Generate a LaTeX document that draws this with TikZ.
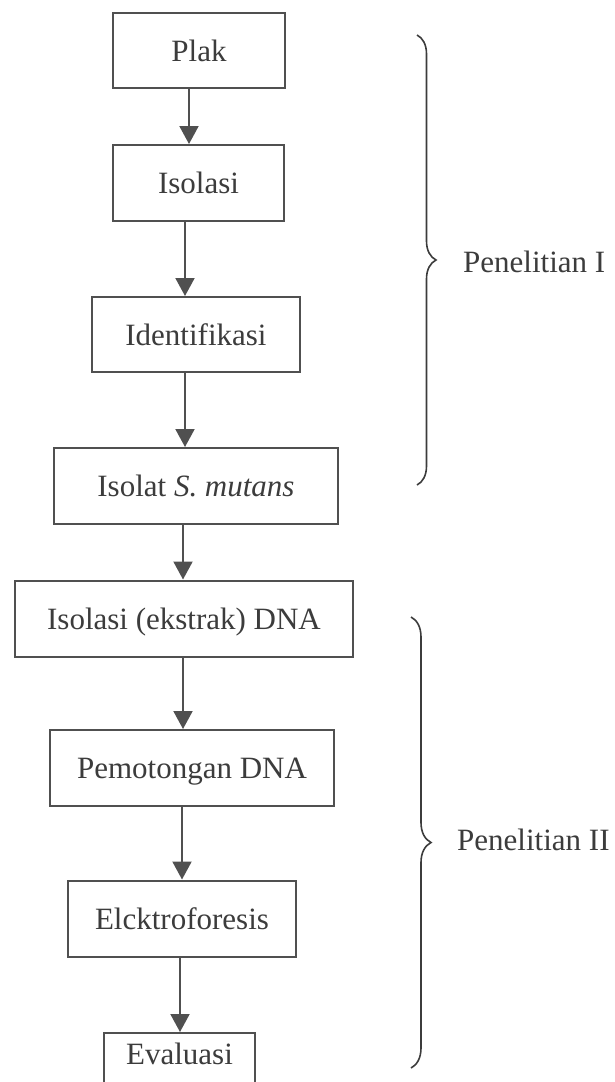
\documentclass[tikz,border=0pt]{standalone}
\usepackage{fontspec}
\setmainfont{Liberation Serif}
\usetikzlibrary{arrows.meta,decorations.pathreplacing}
\definecolor{ink}{RGB}{60,60,60}
\definecolor{linec}{RGB}{80,80,80}
\tikzset{
  stepbox/.style={draw=linec, line width=2pt, inner sep=0pt, text=ink,
    text height=21pt, text depth=0pt,
    font=\fontsize{31}{37}\selectfont},
  flow/.style={draw=linec, line width=2pt,
    -{Triangle[width=19pt,length=18pt]}, color=linec},
  bracec/.style={draw=ink, line width=1.6pt,
    decorate, decoration={brace, amplitude=19pt, aspect=0.5}},
  lab/.style={text=ink, font=\fontsize{31}{37}\selectfont, inner sep=0pt, anchor=base west}
}
\begin{document}
\begin{tikzpicture}[x=1pt,y=-1pt]
\useasboundingbox (0,0) rectangle (615,1082);
\fill[white] (0,0) rectangle (615,1082);

\node[stepbox, minimum width=172pt, minimum height=75pt] (plak) at (199,50.5) {Plak};
\node[stepbox, minimum width=171pt, minimum height=76pt] (isolasi) at (198.5,183) {Isolasi};
\node[stepbox, minimum width=208pt, minimum height=75pt] (ident) at (196,334.5) {Identifikasi};
\node[stepbox, minimum width=284pt, minimum height=76pt] (isolat) at (196,486) {Isolat \textit{S. mutans}};
\node[stepbox, minimum width=338pt, minimum height=76pt] (dna) at (184,618.5) {Isolasi (ekstrak) DNA};
\node[stepbox, minimum width=284pt, minimum height=76pt] (potong) at (192,768) {Pemotongan DNA};
\node[stepbox, minimum width=228pt, minimum height=76pt] (elektro) at (182,918.5) {Elcktroforesis};
\node[stepbox, minimum width=151pt, anchor=north, inner ysep=10pt, text depth=30pt] (eval) at (179.5,1032) {Evaluasi};

\coordinate (a1) at (189,0);
\coordinate (a2) at (185,0);
\coordinate (a3) at (185,0);
\coordinate (a4) at (183,0);
\coordinate (a5) at (183,0);
\coordinate (a6) at (182,0);
\coordinate (a7) at (180,0);

\draw[flow] (plak.south -| a1) -- (isolasi.north -| a1);
\draw[flow] (isolasi.south -| a2) -- (ident.north -| a2);
\draw[flow] (ident.south -| a3) -- (isolat.north -| a3);
\draw[flow] (isolat.south -| a4) -- (dna.north -| a4);
\draw[flow] (dna.south -| a5) -- (potong.north -| a5);
\draw[flow] (potong.south -| a6) -- (elektro.north -| a6);
\draw[flow] (elektro.south -| a7) -- (eval.north -| a7);

\coordinate (b1t) at (417,35);
\coordinate (b1b) at (417,485);
\coordinate (b2t) at (411,617);
\coordinate (b2b) at (411,1068);
\draw[bracec] (b1t) -- (b1b);
\draw[bracec, decoration={brace, amplitude=20pt, aspect=0.5}] (b2t) -- (b2b);

\node[lab] (pen1) at (463,272) {Penelitian I};
\node[lab] (pen2) at (457,850) {Penelitian II};
\end{tikzpicture}
\end{document}
